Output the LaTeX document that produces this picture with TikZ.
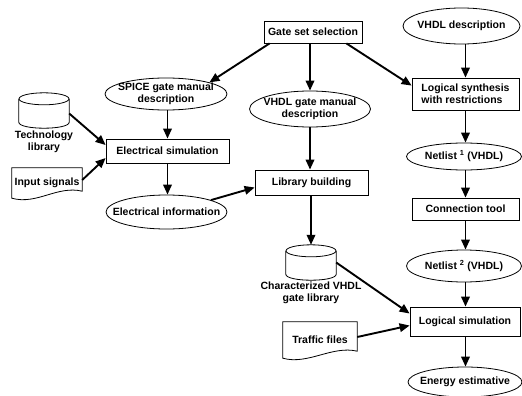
\documentclass[tikz,border=0pt]{standalone}
\usepackage{fontspec}
\setmainfont{Liberation Sans}
\usetikzlibrary{shapes.geometric,arrows.meta}
\newcommand\drawcyl[1]{%
  \draw[shp] ([yshift=-6pt]#1.north west) -- ([yshift=6pt]#1.south west)
    .. controls ([yshift=-2pt]#1.south west) and ([yshift=-2pt]#1.south east) .. ([yshift=6pt]#1.south east)
    -- ([yshift=-6pt]#1.north east);
  \draw[shp] ([yshift=-6pt]#1.north) ellipse [x radius=25, y radius=6];}
\newcommand\drawdoc[1]{%
  \draw[shp] (#1.south west) -- (#1.north west) -- (#1.north east) -- ([yshift=7pt]#1.south east)
    .. controls ([xshift=-25pt,yshift=13pt]#1.south east) and ([xshift=25pt,yshift=-7pt]#1.south west) .. (#1.south west) -- cycle;}
\begin{document}
\begin{tikzpicture}[x=1pt,y=-1pt,
  every node/.style={font=\fontsize{10.5}{12}\selectfont\bfseries},
  procbox/.style={draw, line width=0.8pt, rectangle, inner sep=0pt, align=center},
  ovalbox/.style={draw, line width=0.8pt, ellipse, inner xsep=-12pt, inner ysep=-4pt, align=center},
  holder/.style={rectangle, inner sep=0pt},
  shp/.style={line width=0.8pt},
  flow/.style={line width=1.9pt, -{Triangle[length=10pt,width=8.5pt]}}]
\useasboundingbox (0,0) rectangle (522,396);

% top / middle column
\node[procbox, minimum width=98pt, minimum height=22pt] (gate) at (313,32) {Gate set selection};
\node[ovalbox, minimum width=121pt, minimum height=36pt] (vgate) at (310,109) {VHDL gate manual\\description};
\node[procbox, minimum width=113pt, minimum height=25pt] (lib) at (311.5,182.5) {Library building};
\node[holder, minimum width=50pt, minimum height=35pt] (charlib) at (311,262.5) {};
\drawcyl{charlib}
\node[align=center] (charlabel) at (311,293) {Characterized VHDL\\gate library};
\node[holder, minimum width=74pt, minimum height=36pt] (traffic) at (320,340) {Traffic files};
\drawdoc{traffic}

% left column
\node[ovalbox, minimum width=122pt, minimum height=32pt] (spice) at (166,94) {SPICE gate manual\\description};
\node[procbox, minimum width=123pt, minimum height=24pt] (elsim) at (167.5,151) {Electrical simulation};
\node[ovalbox, minimum width=121pt, minimum height=34pt] (elinfo) at (166.5,212) {Electrical information};
\node[holder, minimum width=50pt, minimum height=35pt] (tech) at (44,110.5) {};
\drawcyl{tech}
\node[align=center] (techlabel) at (44,142) {Technology\\library};
\node[holder, minimum width=70pt, minimum height=30pt] (input) at (47,183) {Input signals};
\drawdoc{input}

% right column
\node[ovalbox, minimum width=117pt, minimum height=36pt] (vdesc) at (461.5,26) {VHDL description};
\node[procbox, minimum width=107pt, minimum height=32pt, align=left] (logsyn) at (465.5,94) {Logical synthesis\\with restrictions};
\node[ovalbox, minimum width=115pt, minimum height=27pt] (net1) at (464,156.5) {Netlist \textsuperscript{1} (VHDL)};
\node[procbox, minimum width=107pt, minimum height=22pt] (conn) at (465.5,209) {Connection tool};
\node[ovalbox, minimum width=115pt, minimum height=32pt] (net2) at (464,266) {Netlist \textsuperscript{2} (VHDL)};
\node[procbox, minimum width=110pt, minimum height=29pt] (logsim) at (465,321.5) {Logical simulation};
\node[ovalbox, minimum width=114pt, minimum height=30pt] (energy) at (465,382) {Energy estimative};

% connectors
\draw[flow] ([xshift=6pt]gate.south west) -- (spice.north east);
\draw[flow] (gate.south -| vgate.north) -- (vgate.north);
\draw[flow] ([xshift=-16pt]gate.south east) -- ([yshift=-8pt]logsyn.north west);
\draw[flow] (vdesc.south -| logsyn.north) -- (logsyn.north);
\draw[flow] (logsyn.south) -- (net1.north -| logsyn.south);
\draw[flow] (net1.south -| logsyn.south) -- (conn.north);
\draw[flow] (conn.south) -- (net2.north -| conn.south);
\draw[flow] (net2.south -| conn.south) -- (logsim.north -| conn.south);
\draw[flow] (logsim.south -| conn.south) -- (energy.north -| conn.south);
\draw[flow] (spice.south -| elsim.north) -- (elsim.north);
\draw[flow] (elsim.south) -- (elinfo.north -| elsim.south);
\draw[flow] ([yshift=-3pt]tech.east) -- ([yshift=6pt]elsim.west);
\draw[flow] ([yshift=3pt]input.east) -- ([yshift=-7pt]elsim.west);
\draw[flow] (elinfo.15) -- ([yshift=-5pt]lib.west);
\draw[flow] (vgate.south) -- (vgate.south |- lib.north);
\draw[flow] (lib.south -| charlib.north) -- (charlib.north);
\draw[flow] (charlib.east) -- ([yshift=8pt]logsim.west);
\draw[flow] ([yshift=3pt]traffic.east) -- ([yshift=-4pt]logsim.west);
\end{tikzpicture}
\end{document}
